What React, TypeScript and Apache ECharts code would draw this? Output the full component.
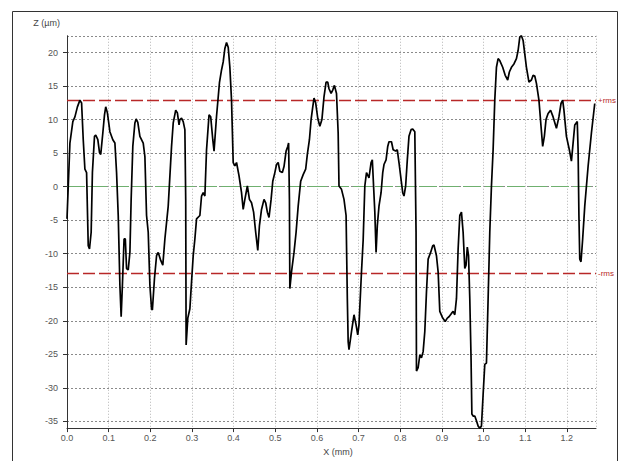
import React, { useEffect, useRef } from "react";
import * as echarts from "echarts";

// Surface profile: horizontal position (mm) and height (µm)
const profileX = [
  0.0, 0.007, 0.014, 0.019, 0.025, 0.031, 0.035, 0.039, 0.043, 0.047, 0.051, 0.054, 0.058, 0.061,
  0.066, 0.069, 0.074, 0.078, 0.081, 0.086, 0.09, 0.093, 0.097, 0.103, 0.11, 0.115, 0.119, 0.123,
  0.127, 0.13, 0.133, 0.137, 0.14, 0.143, 0.147, 0.151, 0.154, 0.158, 0.163, 0.166, 0.17, 0.175,
  0.183, 0.187, 0.191, 0.195, 0.199, 0.203, 0.205, 0.21, 0.215, 0.219, 0.225, 0.23, 0.235, 0.243,
  0.251, 0.255, 0.261, 0.265, 0.269, 0.271, 0.275, 0.279, 0.283, 0.285, 0.286, 0.29, 0.295, 0.299,
  0.303, 0.307, 0.311, 0.319, 0.323, 0.327, 0.331, 0.335, 0.341, 0.345, 0.35, 0.353, 0.359, 0.366,
  0.371, 0.375, 0.379, 0.383, 0.387, 0.391, 0.395, 0.399, 0.403, 0.407, 0.413, 0.419, 0.423, 0.427,
  0.433, 0.438, 0.443, 0.448, 0.453, 0.458, 0.462, 0.467, 0.473, 0.477, 0.481, 0.485, 0.49, 0.494,
  0.499, 0.503, 0.507, 0.511, 0.517, 0.521, 0.526, 0.53, 0.532, 0.534, 0.535, 0.539, 0.545, 0.55,
  0.555, 0.561, 0.567, 0.573, 0.577, 0.582, 0.586, 0.59, 0.593, 0.597, 0.602, 0.607, 0.612, 0.617,
  0.622, 0.626, 0.629, 0.634, 0.638, 0.642, 0.647, 0.651, 0.653, 0.659, 0.665, 0.67, 0.673, 0.675,
  0.677, 0.683, 0.689, 0.694, 0.698, 0.701, 0.707, 0.711, 0.715, 0.719, 0.725, 0.73, 0.733, 0.736,
  0.739, 0.742, 0.745, 0.749, 0.754, 0.758, 0.761, 0.766, 0.77, 0.773, 0.779, 0.783, 0.789, 0.793,
  0.797, 0.802, 0.806, 0.809, 0.813, 0.817, 0.821, 0.826, 0.83, 0.835, 0.838, 0.839, 0.843, 0.847,
  0.851, 0.855, 0.859, 0.863, 0.867, 0.873, 0.878, 0.881, 0.887, 0.891, 0.895, 0.902, 0.908, 0.913,
  0.917, 0.923, 0.927, 0.931, 0.935, 0.939, 0.943, 0.947, 0.951, 0.955, 0.958, 0.961, 0.964, 0.967,
  0.97, 0.972, 0.975, 0.979, 0.983, 0.987, 0.991, 0.995, 0.999, 1.003, 1.007, 1.011, 1.015, 1.019,
  1.023, 1.027, 1.031, 1.035, 1.039, 1.046, 1.052, 1.058, 1.062, 1.067, 1.073, 1.079, 1.083, 1.087,
  1.091, 1.095, 1.099, 1.103, 1.109, 1.115, 1.119, 1.123, 1.127, 1.133, 1.138, 1.142, 1.146, 1.15,
  1.155, 1.161, 1.167, 1.175, 1.181, 1.186, 1.19, 1.193, 1.199, 1.206, 1.211, 1.215, 1.219, 1.225,
  1.227, 1.229, 1.231, 1.234, 1.238, 1.243, 1.251, 1.259, 1.267,
];

const profileZ = [
  -4.8, 6.5, 9.7, 10.4, 11.9, 12.9, 12.5, 7.0, 2.6, 2.1, -8.8, -9.3, -6.8, 2.1,
  7.5, 7.7, 7.0, 5.1, 4.8, 8.0, 10.7, 11.9, 11.0, 8.2, 7.0, 6.5, 2.1, -4.3,
  -14.7, -19.4, -14.7, -7.8, -7.8, -12.2, -12.4, -9.8, -1.9, 6.0, 9.5, 10.1, 9.6, 7.5,
  6.5, 4.5, -4.3, -6.8, -14.7, -18.2, -18.4, -13.7, -10.3, -9.8, -11.0, -11.7, -7.8, -2.9,
  6.0, 9.5, 11.4, 11.0, 9.2, 10.0, 10.2, 9.7, 8.5, -1.9, -23.6, -19.6, -18.2, -14.2,
  -10.3, -7.8, -4.8, -4.3, -1.4, -0.9, -1.4, 5.5, 10.7, 10.4, 7.0, 5.3, 10.5, 15.5,
  17.4, 18.6, 20.6, 21.5, 20.8, 17.8, 12.9, 3.6, 3.1, 3.6, 1.6, -0.9, -3.4, -1.9,
  0.1, -1.9, -2.4, -3.8, -6.8, -9.5, -5.8, -3.4, -1.9, -2.4, -3.8, -4.6, -1.9, 0.8,
  2.1, 3.3, 3.6, 2.3, 2.1, 3.0, 5.3, 6.0, 6.5, -1.9, -15.2, -12.7, -9.8, -6.8,
  -2.9, 0.8, 1.8, 2.6, 4.8, 7.0, 10.0, 11.9, 13.2, 12.5, 10.2, 9.0, 10.0, 13.4,
  15.6, 15.6, 14.6, 13.9, 14.4, 15.1, 13.9, 8.0, 0.1, -0.4, -1.9, -4.3, -16.7, -23.1,
  -24.3, -21.6, -19.1, -20.6, -22.1, -20.6, -12.7, -8.0, 0.1, 2.1, 1.3, 3.6, 4.0, 0.1,
  -3.8, -9.8, -5.8, -2.9, -0.9, 2.1, 3.3, 4.0, 6.0, 6.7, 6.7, 5.5, 5.3, 5.5,
  3.6, 1.1, -0.9, -1.4, 0.1, 4.0, 7.5, 8.5, 8.6, 8.2, -6.8, -27.5, -27.0, -25.1,
  -25.5, -24.6, -21.6, -15.7, -10.8, -9.8, -8.8, -8.7, -10.3, -12.7, -18.6, -19.6, -20.1, -19.6,
  -19.4, -18.9, -18.6, -19.1, -16.7, -9.3, -4.3, -3.8, -6.8, -12.2, -11.7, -9.0, -10.3, -16.7,
  -25.5, -33.9, -34.2, -34.2, -34.9, -35.7, -36.0, -35.7, -31.0, -26.5, -26.3, -16.7, -6.8, 0.1,
  5.5, 12.9, 17.8, 19.1, 18.8, 17.8, 16.6, 15.9, 17.1, 17.8, 18.3, 19.1, 20.3, 22.3,
  22.5, 21.8, 19.8, 17.8, 15.6, 15.9, 16.6, 16.5, 15.4, 12.9, 9.0, 6.0, 7.5, 10.0,
  10.9, 11.4, 10.4, 8.7, 10.4, 12.4, 12.9, 11.4, 7.5, 5.5, 3.8, 6.5, 9.2, 9.7,
  5.5, -4.3, -10.8, -11.2, -7.8, -2.9, 3.0, 8.0, 12.4,
];

// Root-mean-square roughness level, drawn as ±rms reference lines
const rmsLevel = 12.9;

const xRange = [0, 1.27];
const zRange = [-36, 22.5];

const FONT = "'Liberation Sans', Arial, sans-serif";
const RMS_COLOR = "#b82828";
const ZERO_COLOR = "#6fb06f";

// Horizontal reference line drawn through its own empty series
function refLine(value: number, color: string, width: number, dash: number[], text: string | null) {
  return {
    type: "line",
    data: [],
    silent: true,
    markLine: {
      silent: true,
      symbol: ["none", "none"],
      animation: false,
      lineStyle: { color, width, type: dash, opacity: 1 },
      label: text
        ? {
            show: true,
            position: "end",
            distance: 2,
            formatter: text,
            color,
            fontSize: 8,
            fontFamily: FONT,
          }
        : { show: false },
      data: [{ yAxis: value }],
    },
  };
}

export default function App() {
  const ref = useRef<HTMLDivElement>(null);

  useEffect(() => {
    if (!ref.current) return;
    const chart = echarts.init(ref.current, null, { renderer: "svg" });
    const points = profileX.map((x, i) => [x, profileZ[i]]);

    chart.setOption({
      animation: false,
      backgroundColor: "#ffffff",
      textStyle: { fontFamily: FONT },
      grid: { left: 67, right: 29, top: 35.76, bottom: 30.74, containLabel: false },
      graphic: [
        {
          type: "rect",
          silent: true,
          shape: { x: 12.5, y: 11.5, width: 605, height: 470 },
          style: { fill: "none", stroke: "#333333", lineWidth: 1 },
        },
      ],
      xAxis: {
        type: "value",
        min: xRange[0],
        max: xRange[1],
        interval: 0.1,
        name: "X (mm)",
        nameLocation: "middle",
        nameGap: 18,
        nameTextStyle: { color: "#444", fontSize: 9, fontFamily: FONT, padding: [0, 0, 0, 13] },
        axisLine: { onZero: false, lineStyle: { color: "#333", width: 1 } },
        axisTick: { show: true, length: 4, lineStyle: { color: "#333" } },
        axisLabel: {
          color: "#555",
          fontSize: 9,
          fontFamily: FONT,
          margin: 5,
          showMaxLabel: false,
          formatter: (v: number) => v.toFixed(1),
        },
        splitLine: { show: true, lineStyle: { color: "#b4b4b4", width: 1, type: [1, 2] } },
      },
      yAxis: {
        type: "value",
        min: zRange[0],
        max: zRange[1],
        splitNumber: 12,
        minInterval: 5,
        maxInterval: 5,
        name: "Z (µm)",
        nameLocation: "end",
        nameGap: 8,
        nameTextStyle: { color: "#444", fontSize: 9, fontFamily: FONT, align: "right", padding: [0, 7, 0, 0] },
        axisLine: { show: true, onZero: false, lineStyle: { color: "#333", width: 1 } },
        axisTick: { show: true, length: 4, lineStyle: { color: "#333" } },
        axisLabel: {
          color: "#555",
          fontSize: 9,
          fontFamily: FONT,
          margin: 9,
          showMinLabel: false,
          showMaxLabel: false,
        },
        splitLine: { show: true, lineStyle: { color: "#8a8a8a", width: 1, type: [2, 2] } },
      },
      series: [
        refLine(0, ZERO_COLOR, 1, [18, 4], null),
        refLine(rmsLevel, RMS_COLOR, 1.3, [12, 4], "+rms"),
        refLine(-rmsLevel, RMS_COLOR, 1.3, [12, 4], "-rms"),
        {
          type: "line",
          data: points,
          showSymbol: false,
          symbol: "none",
          lineStyle: { color: "#000000", width: 1.7 },
          z: 5,
        },
      ],
    });

    return () => chart.dispose();
  }, []);

  return (
    <div
      ref={ref}
      style={{ position: "fixed", left: 0, top: 0, width: 625, height: 461, background: "#fff" }}
    />
  );
}
